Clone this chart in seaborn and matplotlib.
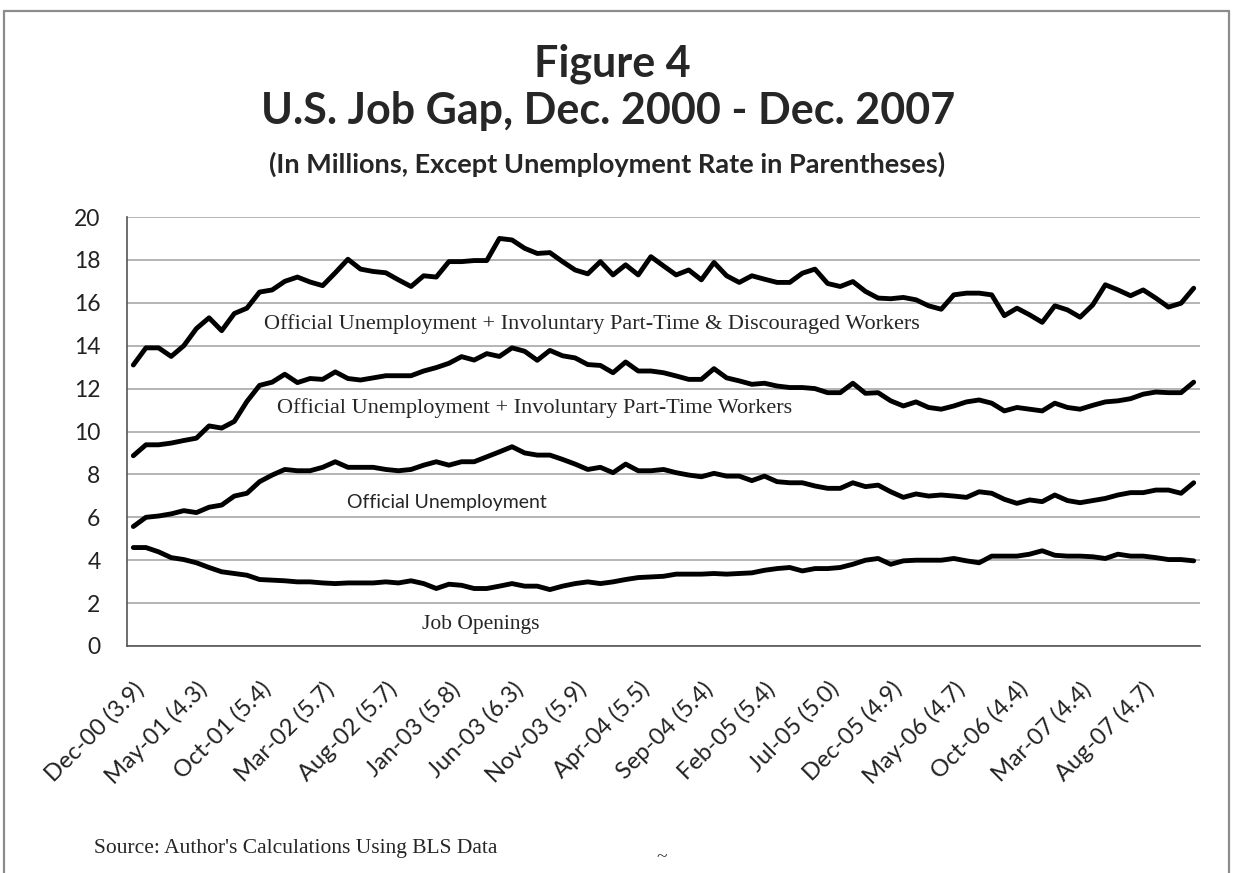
import matplotlib
matplotlib.use('Agg')
import matplotlib.pyplot as plt
import seaborn as sns
import numpy as np
import pandas as pd
from matplotlib.lines import Line2D

# ========== data (millions), monthly Dec-2000 .. Dec-2007 ==========
months = pd.date_range('2000-12-01', '2007-12-01', freq='MS')

tick_labels = ['Dec-00 (3.9)', 'May-01 (4.3)', 'Oct-01 (5.4)', 'Mar-02 (5.7)',
               'Aug-02 (5.7)', 'Jan-03 (5.8)', 'Jun-03 (6.3)', 'Nov-03 (5.9)',
               'Apr-04 (5.5)', 'Sep-04 (5.4)', 'Feb-05 (5.4)', 'Jul-05 (5.0)',
               'Dec-05 (4.9)', 'May-06 (4.7)', 'Oct-06 (4.4)', 'Mar-07 (4.4)',
               'Aug-07 (4.7)']

unemp_pt_disc = [13.1, 13.9, 13.9, 13.5, 14.0, 14.8, 15.3, 14.7, 15.5, 15.75,
                 16.5, 16.6, 17.0, 17.2, 16.97, 16.8, 17.4, 18.03, 17.57, 17.46,
                 17.4, 17.07, 16.76, 17.26, 17.2, 17.92, 17.92, 17.97, 17.97, 19.0,
                 18.93, 18.54, 18.3, 18.34, 17.92, 17.53, 17.35, 17.92, 17.3, 17.77,
                 17.3, 18.15, 17.72, 17.3, 17.53, 17.07, 17.88, 17.26, 16.95, 17.26,
                 17.1, 16.95, 16.95, 17.38, 17.57, 16.9, 16.76, 16.99, 16.53, 16.22,
                 16.19, 16.25, 16.14, 15.86, 15.7, 16.37, 16.45, 16.45, 16.37, 15.4,
                 15.75, 15.44, 15.09, 15.86, 15.67, 15.33, 15.9, 16.84, 16.6, 16.33,
                 16.6, 16.22, 15.8, 15.98, 16.68]

unemp_pt = [8.87, 9.38, 9.38, 9.46, 9.58, 9.69, 10.26, 10.16, 10.47, 11.4,
            12.15, 12.3, 12.67, 12.28, 12.47, 12.43, 12.78, 12.47, 12.4, 12.5,
            12.6, 12.6, 12.6, 12.82, 12.98, 13.18, 13.49, 13.33, 13.63, 13.5,
            13.9, 13.74, 13.32, 13.78, 13.53, 13.43, 13.12, 13.08, 12.74, 13.24,
            12.82, 12.82, 12.74, 12.59, 12.43, 12.43, 12.93, 12.5, 12.36, 12.2,
            12.25, 12.12, 12.05, 12.05, 12.0, 11.81, 11.81, 12.25, 11.78, 11.81,
            11.43, 11.19, 11.38, 11.12, 11.04, 11.19, 11.38, 11.47, 11.32, 10.96,
            11.12, 11.04, 10.96, 11.32, 11.12, 11.04, 11.22, 11.38, 11.43, 11.53,
            11.74, 11.84, 11.81, 11.81, 12.3]

unemp_official = [5.57, 6.0, 6.06, 6.16, 6.31, 6.22, 6.47, 6.57, 6.99, 7.12,
                  7.66, 7.97, 8.23, 8.17, 8.17, 8.33, 8.59, 8.33, 8.33, 8.33,
                  8.23, 8.17, 8.23, 8.43, 8.59, 8.43, 8.59, 8.59, 8.82, 9.05,
                  9.29, 9.0, 8.9, 8.9, 8.7, 8.48, 8.23, 8.33, 8.08, 8.48,
                  8.17, 8.17, 8.23, 8.08, 7.97, 7.89, 8.05, 7.92, 7.92, 7.71,
                  7.92, 7.66, 7.61, 7.61, 7.46, 7.35, 7.35, 7.61, 7.43, 7.5,
                  7.19, 6.93, 7.09, 6.99, 7.04, 6.99, 6.93, 7.19, 7.12, 6.84,
                  6.65, 6.81, 6.73, 7.04, 6.78, 6.68, 6.78, 6.88, 7.04, 7.15,
                  7.15, 7.27, 7.27, 7.12, 7.61]

job_openings = [4.59, 4.59, 4.39, 4.12, 4.03, 3.88, 3.66, 3.46, 3.38, 3.3,
                3.1, 3.07, 3.04, 2.99, 2.99, 2.94, 2.91, 2.94, 2.94, 2.94,
                2.99, 2.94, 3.04, 2.91, 2.68, 2.88, 2.83, 2.68, 2.68, 2.79,
                2.91, 2.79, 2.79, 2.63, 2.79, 2.91, 2.99, 2.91, 2.99, 3.1,
                3.19, 3.22, 3.25, 3.35, 3.35, 3.35, 3.38, 3.35, 3.38, 3.41,
                3.53, 3.61, 3.66, 3.5, 3.61, 3.61, 3.66, 3.81, 4.0, 4.08,
                3.81, 3.97, 4.0, 4.0, 4.0, 4.08, 3.97, 3.88, 4.19, 4.19,
                4.19, 4.28, 4.44, 4.23, 4.19, 4.19, 4.16, 4.08, 4.28, 4.19,
                4.19, 4.12, 4.03, 4.03, 3.97]

series_names = ['disc', 'pt', 'official', 'openings']

# ========== long-form table ==========
idx = np.arange(len(months))
df = pd.concat([
    pd.DataFrame({'idx': idx, 'month': months, 'value': vals, 'series': name})
    for name, vals in zip(series_names,
                          [unemp_pt_disc, unemp_pt, unemp_official, job_openings])
])

# ========== plot ==========
sns.set_style('white')
plt.rcParams['font.family'] = ['Lato', 'DejaVu Sans']

W, H = 1233, 873
fig = plt.figure(figsize=(W / 100, H / 100), dpi=100)
ax = fig.add_axes([127 / W, 1 - 646 / H, 1073 / W, 429 / H])

sns.lineplot(data=df, x='idx', y='value', hue='series', hue_order=series_names,
             palette=['black'] * 4, linewidth=3.5, legend=False, ax=ax,
             solid_joinstyle='round', solid_capstyle='round')

ax.set_xlim(-0.5, len(months) - 0.5)
ax.set_ylim(0, 20)
ax.set_yticks(np.arange(0, 21, 2))
ax.yaxis.grid(True, color='#a0a0a0', linewidth=1.1)
ax.set_axisbelow(True)
ax.set_xlabel('')
ax.set_ylabel('')

for s in ['top', 'right']:
    ax.spines[s].set_visible(False)
for s in ['left', 'bottom']:
    ax.spines[s].set_color('#555555')
    ax.spines[s].set_linewidth(1.2)

# tick marks between categories, labels every 5 months
ax.set_xticks(np.arange(-0.5, len(months), 5))
ax.set_xticklabels([])
ax.set_xticks(np.arange(0, len(months), 5), minor=True)
ax.set_xticklabels(tick_labels, minor=True, rotation=45, ha='right', va='top',
                   rotation_mode='anchor', fontsize=17, color='#222222')
ax.tick_params(axis='x', which='major', length=7, width=1.2, color='#555555',
               direction='out')
ax.tick_params(axis='x', which='minor', length=0, pad=23)
ax.tick_params(axis='y', length=0, pad=19, labelsize=16.5, labelcolor='#222222')

# series labels
serif = ['Liberation Serif', 'DejaVu Serif']
ax.text(36.3, 14.78, 'Official Unemployment + Involuntary Part-Time & Discouraged Workers',
        family=serif, fontsize=16, ha='center', va='baseline')
ax.text(31.75, 10.88, 'Official Unemployment + Involuntary Part-Time Workers',
        family=serif, fontsize=16, ha='center', va='baseline')
ax.text(24.86, 6.43, 'Official Unemployment', fontsize=14, ha='center', va='baseline')
ax.text(27.5, 0.79, 'Job Openings', family=serif, fontsize=15.5, ha='center',
        va='baseline')

# titles
fig.text(612 / W, 1 - 77 / H, 'Figure 4', fontsize=31, fontweight='bold',
         ha='center', va='baseline')
fig.text(608 / W, 1 - 124 / H, 'U.S. Job Gap, Dec. 2000 - Dec. 2007', fontsize=31,
         fontweight='bold', ha='center', va='baseline')
fig.text(607 / W, 1 - 173 / H,
         '(In Millions, Except Unemployment Rate in Parentheses)',
         fontsize=19.5, fontweight='bold', ha='center', va='baseline')

fig.text(94 / W, 1 - 853 / H, "Source: Author's Calculations Using BLS Data",
         family=serif, fontsize=15.5, ha='left', va='baseline')
fig.text(662 / W, 1 - 862 / H, '~', family=serif, fontsize=14, ha='center',
         va='baseline')

# outer frame
frame_kw = dict(color='#8c8c8c', linewidth=1.6, transform=fig.transFigure)
fig.add_artist(Line2D([4 / W, 1229 / W], [1 - 11 / H, 1 - 11 / H], **frame_kw))
fig.add_artist(Line2D([4 / W, 4 / W], [1 - 11 / H, 0], **frame_kw))
fig.add_artist(Line2D([1229 / W, 1229 / W], [1 - 11 / H, 0], **frame_kw))

fig.savefig('out.png', dpi=100, facecolor='white')
